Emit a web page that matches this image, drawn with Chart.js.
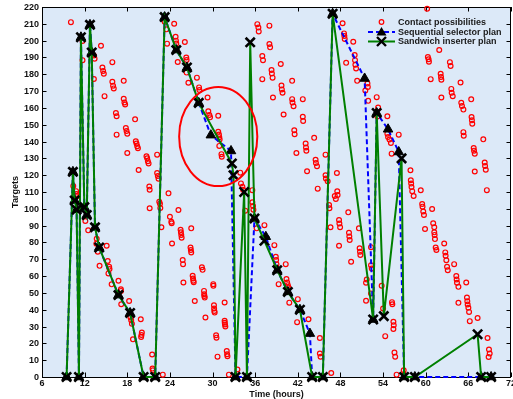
<!DOCTYPE html>
<html>
<head>
<meta charset="utf-8">
<script src="https://cdn.jsdelivr.net/npm/chart.js@4.4.1/dist/chart.umd.min.js"></script>
<style>
  html, body { margin: 0; padding: 0; background: #fff; }
  canvas { display: block; }
</style>
</head>
<body>
<canvas id="planChart" width="513" height="399"></canvas>
<script>
// tick values
const hourTicks = [6, 12, 18, 24, 30, 36, 42, 48, 54, 60, 66, 72];
const targetTicks = [0, 10, 20, 30, 40, 50, 60, 70, 80, 90, 100, 110, 120, 130, 140, 150, 160, 170, 180, 190, 200, 210, 220];

// [time (hours), target]
const contactPossibilities = [
  [10.07,211],[11.7,199.8],[11.7,188.4],[13.3,191.2],[13.4,189.2],[13.3,177.2],[14.3,197],[14.5,184],[14.6,182],[14.7,180.3],
  [15.9,187.2],[14.8,167],[15.9,175.5],[16.0,173.2],[16.1,171.6],[17.5,176.1],[16.4,157],[16.5,155],[17.5,165.4],[17.6,163.2],
  [17.7,162],[16.5,144.1],[19.1,153.2],[17.8,148],[17.9,146.3],[18.0,144.7],[18.0,133.2],[19.2,140.2],[19.3,138.8],[19.4,137.2],
  [19.5,136],[19.6,123.1],[20.7,131.3],[20.8,130],[20.9,128.3],[21.0,127],[22.2,132.2],[22.2,121.3],[22.3,119.5],[22.4,117.9],
  [21.1,113.2],[21.15,111.3],[23.8,109.2],
  [10.4,113.5],[10.8,110.5],[10.85,108.8],[10.9,107.5],[12.1,92.8],[12.5,87.2],[13.7,82.2],[13.65,79.3],[13.85,74.5],[15.1,78],
  [14.1,66.1],[15.25,69],[15.45,65.5],[15.5,64.2],[15.35,61.6],[15.8,55.1],[16.76,57.2],[17.1,52.2],[17.12,51.2],[17.15,43.3],
  [18.26,45.2],[18.45,35.4],[18.55,33.8],[18.65,31.6],[19.9,34.3],[20.05,26.5],[20.0,25],[19.95,23.8],[18.8,22.4],[21.5,13.4],
  [21.55,5],[21.6,4],[23.0,1.4],
  [21.15,100.3],[22.5,104.2],[22.6,103],[22.65,100.5],[24.0,95.3],[24.2,92.3],[24.25,91.4],[25.2,99.3],[22.8,89],[24.3,79.4],
  [25.5,87.5],[25.55,86],[25.6,84.4],[25.65,82.8],[27.0,88.4],[26.9,77],[26.95,75.5],[27.0,74],[25.8,69.5],[25.85,67.1],
  [28.5,65.2],[28.6,63.7],[25.9,56.2],[27.2,60.2],[27.25,58.6],[27.3,57.3],[27.35,56.4],[27.5,45.2],[28.8,51.2],[28.82,49.2],
  [28.85,48.2],[28.9,47.2],[30.1,55.2],[30.12,54.2],[29.0,35.4],[30.2,42.7],[30.22,40.7],[30.25,39.3],[30.3,38.3],[31.7,44.3],
  [30.5,24.8],[30.55,23.4],[31.7,33.4],[31.72,32.2],[31.75,31.2],[31.8,30],[30.7,12.1],[32.0,15.5],[32.05,13.5],[32.1,12.3],
  [32.3,1.4],[33.5,4.5],
  [23.26,211.3],[23.5,206.7],[24.6,210],[24.8,202.3],[24.85,200],[24.9,198.3],[23.6,198.2],[26.1,199.2],[26.3,190],[26.35,188.5],
  [25.1,187.3],[26.35,181],[26.6,175],[27.8,178],[28.1,172.2],[28.15,170.6],[29.3,166.2],[29.4,158],[29.55,155.8],[29.65,154.4],
  [30.8,155.3],[30.8,145.8],[30.9,144.2],[30.95,142.6],[31.0,141.2],[30.95,137.4],[31.25,132.5],[31.3,131],[33.9,121.5],[34.0,115.1],
  [34.2,113.1],[34.3,111.3],[35.6,111.1],
  [35.6,103.9],[35.7,101.7],[35.75,99.5],[34.6,98.9],[36.2,88.4],[37.3,90.3],[38.7,78.4],[38.9,71.5],[38.95,69.5],[39.0,67.1],
  [40.3,67.1],[39.3,55.2],[40.4,58.2],[40.5,56.2],[40.6,54.6],[40.7,53.2],[42.0,46.3],[40.8,44.2],[41.9,32.6],[43.5,34.3],
  [45.1,23.2],[45.1,14],[45.2,12],[46.7,2.4],
  [36.3,209.8],[36.45,207.8],[36.5,205.5],[38.0,208.9],[38.0,198],[38.1,196],[37.0,190.8],[37.1,188.4],[37.0,177.1],[39.6,186.1],
  [38.3,182.5],[38.35,180.5],[38.45,178],[41.2,176.1],[39.7,173.3],[39.75,171],[39.85,169],[38.5,166.2],[41.2,165.2],[41.25,163.2],
  [41.4,161],[42.7,165.2],[40.0,156.1],[42.7,154.7],[42.75,152.2],[41.5,146.7],[41.55,144.3],[44.3,142.2],[43.1,138.8],[43.15,136.5],
  [43.2,134.5],[41.8,133.2],[45.9,132.2],[44.5,129.2],[44.55,127.2],[44.7,125.3],[43.3,122.3],[47.5,121.3],[45.9,120],[45.95,118],
  [46.2,116.4],[44.8,112],[47.55,110.4],[47.6,108.2],
  [46.4,102.3],[46.45,100.3],[47.2,107.6],[47.35,105.8],[49.1,97.9],[46.6,89],[47.8,93.3],[47.85,91.3],[47.95,89],[49.2,85.8],
  [49.25,83.5],[49.3,81.5],[47.8,78],[49.5,68.5],[50.6,88.4],[50.7,76.5],[50.75,74.5],[50.8,72.5],[52.3,77.2],[52.3,66.5],
  [52.4,64.5],[51.7,58],[51.6,56],[51.6,45.3],[52.3,49.7],[53.8,54.3],[54.0,40.7],[55.25,44.5],[55.3,43.3],[55.45,32.8],
  [55.5,30.8],[55.45,28.6],[54.3,24.3],[55.6,14.6],[55.7,12],[56.9,4],[56.95,1.5],[55.9,1.4],
  [48.3,210.3],[48.5,204.3],[48.55,202.7],[48.6,201],[48.8,186.8],[49.8,199.3],[50.0,191.4],[50.05,188.4],[50.1,185.6],[50.2,183.4],
  [50.35,176.1],[51.8,174.5],[51.85,172.5],[51.5,170.3],[53.1,166.4],[51.9,164.2],[53.3,160.2],[53.2,154.9],[54.6,155],[54.6,144.7],
  [54.7,142.7],[54.9,141.2],[55.1,139.2],[56.2,144.1],[55.2,132.8],[57.85,122.9],[57.9,117],[57.95,115],[58.0,113],[58.1,110.5],
  [59.3,111],
  [58.3,107.6],[59.5,102.9],[59.55,101.3],[59.65,98.4],[59.75,96.3],[60.9,99.9],[61.05,91.4],[61.2,89],[59.9,88],[61.2,86],
  [61.25,84.5],[61.3,82],[62.6,79.4],[61.4,77],[61.5,75.5],[62.75,74.1],[62.8,72.1],[62.9,69.4],[64.0,67.1],[63.0,65.5],
  [63.1,63.5],[64.3,60],[64.35,58],[64.4,56],[64.6,53.6],[65.7,56.2],[64.6,44.1],[65.8,47.3],[65.85,45.1],[65.9,43.1],
  [66.0,41.2],[66.1,38.7],[67.3,35.1],[66.2,33.2],[68.7,23.2],[68.9,16.3],[69.0,13.9],[68.85,11.9],
  [60.2,219],[61.9,194.4],[60.3,190.3],[60.4,188.9],[60.45,187.5],[63.4,187.2],[63.5,184.9],[60.7,177.1],[62.1,180.3],[62.15,178.4],
  [62.2,176.8],[64.9,175.1],[62.2,166.2],[63.6,171.3],[63.65,169],[63.8,167],[66.4,165.1],[65.0,163.1],[65.1,161.1],[65.3,159],
  [66.45,154.6],[66.5,152.6],[66.55,150.6],[65.3,145.6],[65.35,143.5],[68.1,141.3],[66.75,136.2],[66.8,134.6],[66.9,132.7],[68.3,127.5],
  [68.35,125.5],[68.45,123.2],[66.9,122.2],[68.6,111.1]
];

const sequentialPlan = [
  [9.46,0],[10.35,122],[10.6,105],[10.87,99.5],[11.2,0],[11.48,202],[11.96,101],[12.3,96.3],[12.75,209.4],[13.0,193],
  [13.46,89],[14.05,77],[16.76,48.7],[18.4,38.1],[20.3,0],[21.93,0],[23.26,214],[24.9,194.4],[26.4,184],[28.06,163],
  [29.76,143.8],[32.6,134.4],[33.23,0],[34.84,0],[35.9,94.3],[37.5,83.4],[39.1,63.5],[40.6,50.6],[42.3,40],[43.7,25.8],
  [44.02,0],[45.52,0],[46.9,216],[51.4,177.5],[52.6,34.2],[53.1,157],[54.7,147.3],[56.2,133.8],[56.96,0],[58.47,0],
  [67.8,0],[69.2,0]
];

const sandwichPlan = [
  [9.46,0],[10.35,122],[10.6,105],[10.87,99.5],[11.2,0],[11.48,202],[11.96,101],[12.3,96.3],[12.75,209.4],[13.0,193],
  [13.46,89],[14.05,77],[16.76,48.7],[18.4,38.1],[20.3,0],[21.93,0],[23.26,214],[24.9,194.4],[26.4,184],[28.06,163],
  [32.72,127],[32.95,120],[33.23,0],[34.45,110],[34.84,0],[35.3,199],[35.9,94.3],[37.3,81],[39.1,63.5],[40.6,50.6],
  [42.3,40],[44.02,0],[45.52,0],[46.9,216],[52.6,34.2],[53.1,157],[54.1,36.2],[56.6,130],[56.96,0],[58.47,0],
  [67.3,25.4],[67.8,0],[69.2,0]
];

// highlighted region (centre and half-axes in data units)
const highlight = { x: 30.8, y: 143, rx: 5.5, ry: 29.5 };

const toXY = pts => pts.map(([h, t]) => ({ x: h, y: t }));
const FONT = "'Liberation Sans', Arial, sans-serif";
const plotBg = 'rgb(220,233,248)';

// MATLAB-like axes: shaded box, inward ticks on all sides, tick labels
const matlabAxes = {
  id: 'matlabAxes',
  beforeDatasetsDraw(chart) {
    const { ctx, chartArea: a, scales: { x, y } } = chart;
    ctx.save();
    ctx.fillStyle = plotBg;
    ctx.fillRect(a.left, a.top, a.right - a.left, a.bottom - a.top);
    ctx.strokeStyle = '#000';
    ctx.lineWidth = 1;
    ctx.beginPath();
    x.ticks.forEach(t => {
      const px = Math.round(x.getPixelForValue(t.value)) + 0.5;
      ctx.moveTo(px, a.bottom); ctx.lineTo(px, a.bottom - 4.5);
      ctx.moveTo(px, a.top); ctx.lineTo(px, a.top + 4.5);
    });
    y.ticks.forEach(t => {
      const py = Math.round(y.getPixelForValue(t.value)) + 0.5;
      ctx.moveTo(a.left, py); ctx.lineTo(a.left + 4.5, py);
      ctx.moveTo(a.right, py); ctx.lineTo(a.right - 4.5, py);
    });
    ctx.stroke();
    ctx.strokeRect(Math.round(a.left) + 0.5, Math.round(a.top) + 0.5,
      Math.round(a.right - a.left) - 1, Math.round(a.bottom - a.top));

    ctx.font = 'bold 9px ' + FONT;
    ctx.fillStyle = '#111';
    ctx.textBaseline = 'middle';
    ctx.textAlign = 'center';
    x.ticks.forEach(t => ctx.fillText(String(t.value), x.getPixelForValue(t.value), a.bottom + 6.5));
    ctx.textAlign = 'right';
    y.ticks.forEach(t => ctx.fillText(String(t.value), a.left - 3, y.getPixelForValue(t.value) + 0.5));
    ctx.restore();
  },
  afterDatasetsDraw(chart) {
    const { ctx, chartArea: a, scales: { x, y } } = chart;
    ctx.save();
    // red ellipse
    const cx = x.getPixelForValue(highlight.x);
    const cy = y.getPixelForValue(highlight.y);
    const rx = x.getPixelForValue(highlight.x + highlight.rx) - cx;
    const ry = cy - y.getPixelForValue(highlight.y + highlight.ry);
    ctx.strokeStyle = '#ff0000';
    ctx.lineWidth = 2;
    ctx.beginPath();
    ctx.ellipse(cx, cy, rx, ry, 0, 0, Math.PI * 2);
    ctx.stroke();

    // legend
    const x0 = a.right - 143, x1 = a.right - 116, mx = (x0 + x1) / 2, tx = a.right - 113;
    const rows = [a.top + 15, a.top + 25, a.top + 34.5];
    ctx.font = 'bold 9px ' + FONT;
    ctx.fillStyle = '#1a1a1a';
    ctx.textBaseline = 'middle';
    ctx.textAlign = 'left';
    ['Contact possibilities', 'Sequential selector plan', 'Sandwich inserter plan']
      .forEach((s, i) => ctx.fillText(s, tx, rows[i] + 0.5));

    ctx.strokeStyle = '#ff0000';
    ctx.lineWidth = 1.2;
    ctx.beginPath(); ctx.arc(mx, rows[0], 2.3, 0, Math.PI * 2); ctx.stroke();

    ctx.strokeStyle = '#0000ff';
    ctx.lineWidth = 2;
    ctx.setLineDash([5, 3]);
    ctx.beginPath(); ctx.moveTo(x0, rows[1]); ctx.lineTo(x1, rows[1]); ctx.stroke();
    ctx.setLineDash([]);
    ctx.fillStyle = '#000';
    ctx.beginPath();
    ctx.moveTo(mx, rows[1] - 5); ctx.lineTo(mx + 5, rows[1] + 3.5); ctx.lineTo(mx - 5, rows[1] + 3.5);
    ctx.closePath(); ctx.fill();

    ctx.strokeStyle = '#008000';
    ctx.lineWidth = 2;
    ctx.beginPath(); ctx.moveTo(x0, rows[2]); ctx.lineTo(x1, rows[2]); ctx.stroke();
    ctx.strokeStyle = '#000';
    ctx.lineWidth = 2.4;
    ctx.beginPath();
    ctx.moveTo(mx - 4.5, rows[2] - 4.5); ctx.lineTo(mx + 4.5, rows[2] + 4.5);
    ctx.moveTo(mx + 4.5, rows[2] - 4.5); ctx.lineTo(mx - 4.5, rows[2] + 4.5);
    ctx.stroke();
    ctx.restore();
  }
};

const ctx = document.getElementById('planChart').getContext('2d');
const planChart = new Chart(ctx, {
  type: 'scatter',
  data: {
    datasets: [
      {
        label: 'Sandwich inserter plan',
        data: toXY(sandwichPlan),
        showLine: true,
        borderColor: '#008000',
        borderWidth: 2,
        pointStyle: 'crossRot',
        pointRadius: 6.5,
        pointBorderColor: '#000',
        pointBorderWidth: 2.6,
        clip: false,
        order: 0
      },
      {
        label: 'Sequential selector plan',
        data: toXY(sequentialPlan),
        showLine: true,
        borderColor: '#0000ff',
        borderWidth: 2,
        borderDash: [5, 3],
        pointStyle: 'triangle',
        pointRadius: 5.5,
        pointBackgroundColor: '#000',
        pointBorderColor: '#000',
        pointBorderWidth: 1,
        clip: false,
        order: 1
      },
      {
        label: 'Contact possibilities',
        data: toXY(contactPossibilities),
        pointStyle: 'circle',
        pointRadius: 2.4,
        pointBorderColor: '#ff0000',
        pointBackgroundColor: 'rgba(0,0,0,0)',
        pointBorderWidth: 1.2,
        clip: false,
        order: 2
      }
    ]
  },
  options: {
    responsive: false,
    animation: false,
    devicePixelRatio: 1,
    layout: { autoPadding: false, padding: { top: 7, right: 2, left: 0, bottom: 0 } },
    plugins: {
      legend: { display: false },
      tooltip: { enabled: false }
    },
    scales: {
      x: {
        type: 'linear',
        min: 6,
        max: 72,
        afterBuildTicks: s => { s.ticks = hourTicks.map(v => ({ value: v })); },
        afterFit: s => { s.height = 22; },
        grid: { display: false, drawTicks: false },
        border: { display: false },
        ticks: { display: false },
        title: { display: true, text: 'Time (hours)', color: '#111', padding: { top: 0, bottom: -1 }, font: { family: FONT, size: 9, weight: 'bold' } }
      },
      y: {
        type: 'linear',
        min: 0,
        max: 220,
        afterBuildTicks: s => { s.ticks = targetTicks.map(v => ({ value: v })); },
        afterFit: s => { s.width = 42; },
        grid: { display: false, drawTicks: false },
        border: { display: false },
        ticks: { display: false },
        title: { display: true, text: 'Targets', color: '#111', padding: { top: 10, bottom: 0 }, font: { family: FONT, size: 9, weight: 'bold' } }
      }
    }
  },
  plugins: [matlabAxes]
});
</script>
</body>
</html>
